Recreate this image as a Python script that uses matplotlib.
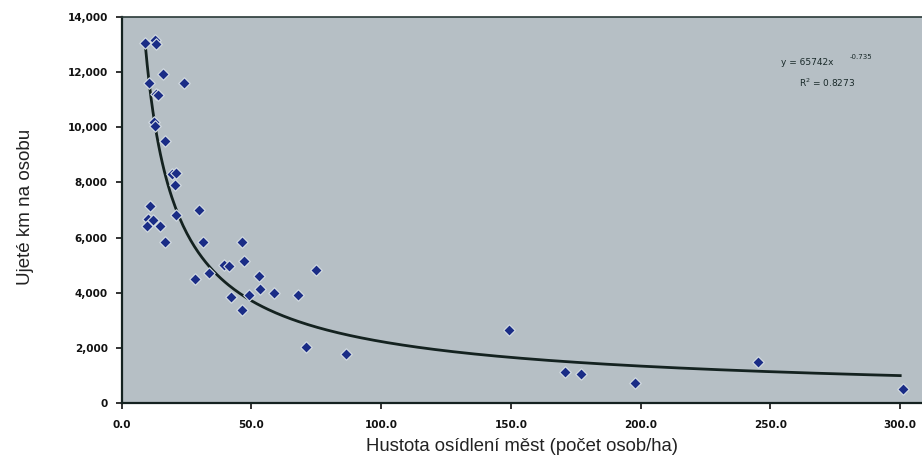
import matplotlib
matplotlib.use("Agg")
import matplotlib.pyplot as plt
import numpy as np
from matplotlib.ticker import FuncFormatter

# Data
density = [9.1, 12.7, 13.3, 10.5, 13.3, 13.8, 16.1, 24.1, 12.3, 12.7, 16.6,
           19.5, 21.0, 20.7, 21.0, 11.0, 10.1, 12.0, 9.9, 14.9, 29.7, 16.8,
           31.4, 46.4, 28.4, 33.8, 39.3, 41.5, 47.0, 42.1, 46.2, 48.9, 52.8,
           53.4, 58.7, 68.0, 74.8, 71.0, 86.3, 149.3, 170.8, 176.9, 197.8,
           245.1, 300.9]
km_per_person = [13040, 13160, 13020, 11610, 11190, 11150, 11930, 11610, 10190,
                 10040, 9500, 8290, 8350, 7890, 6830, 7140, 6680, 6650, 6410,
                 6410, 7010, 5850, 5850, 5850, 4500, 4700, 5020, 4970, 5160,
                 3850, 3380, 3910, 4610, 4120, 4000, 3910, 4820, 2040, 1770,
                 2660, 1110, 1050, 730, 1490, 520]

fit_coef = 65742
fit_exp = -0.735
fit_r2 = 0.8273

xticks = [0, 50, 100, 150, 200, 250, 300]
yticks = [0, 2000, 4000, 6000, 8000, 10000, 12000, 14000]

fig = plt.figure(figsize=(9.22, 4.67), dpi=100)
ax = fig.add_axes([0.132, 0.137, 0.868, 0.827])
ax.set_facecolor("#b6bfc5")

xs = np.linspace(min(density), 300, 400)
ax.plot(xs, fit_coef * xs ** fit_exp, color="#142220", lw=2.0, zorder=2)

ax.scatter(density, km_per_person, marker="D", s=34, color="#1a2c86",
           edgecolors="#d8e0e4", linewidths=0.8, zorder=3)

ax.set_xlim(0, 308.4)
ax.set_ylim(0, 14000)
ax.set_xticks(xticks)
ax.set_yticks(yticks)

narrow = ["Liberation Sans Narrow", "DejaVu Sans"]
ax.xaxis.set_major_formatter(FuncFormatter(lambda v, p: f"{v:.1f}"))
ax.yaxis.set_major_formatter(FuncFormatter(lambda v, p: f"{int(v):,}"))
for lab in ax.get_xticklabels() + ax.get_yticklabels():
    lab.set_fontfamily(narrow)
    lab.set_fontweight("bold")
    lab.set_fontsize(7.5)
    lab.set_color("#111111")

ax.tick_params(axis="y", direction="out", length=4, width=1.2, color="#111111", pad=6)
ax.tick_params(axis="x", direction="out", length=4, width=1.2, color="#111111", pad=8)

for s in ["left", "bottom"]:
    ax.spines[s].set_color("#142220")
    ax.spines[s].set_linewidth(1.6)
ax.spines["top"].set_color("#2a3a38")
ax.spines["top"].set_linewidth(1.2)
ax.spines["right"].set_visible(False)

ax.text(0.856, 0.881, f"y = {fit_coef}x", transform=ax.transAxes, fontsize=6.5,
        family=narrow, color="#1a2a2a", ha="center", va="center")
ax.text(0.924, 0.896, f"{fit_exp}", transform=ax.transAxes, fontsize=5,
        family=narrow, color="#1a2a2a", ha="center", va="center")
ax.text(0.881, 0.829, f"R$^2$ = {fit_r2}", transform=ax.transAxes, fontsize=6.5,
        family=narrow, color="#1a2a2a", ha="center", va="center")

fig.text(0.028, 0.557, "Ujeté km na osobu", rotation=90, ha="center", va="center",
         fontsize=13.5, family=["Liberation Sans", "DejaVu Sans"], color="#222222")
fig.text(0.566, 0.043, "Hustota osídlení měst (počet osob/ha)", ha="center", va="center",
         fontsize=13.3, family=["Liberation Sans", "DejaVu Sans"], color="#222222")

fig.savefig("out.png", dpi=100)
